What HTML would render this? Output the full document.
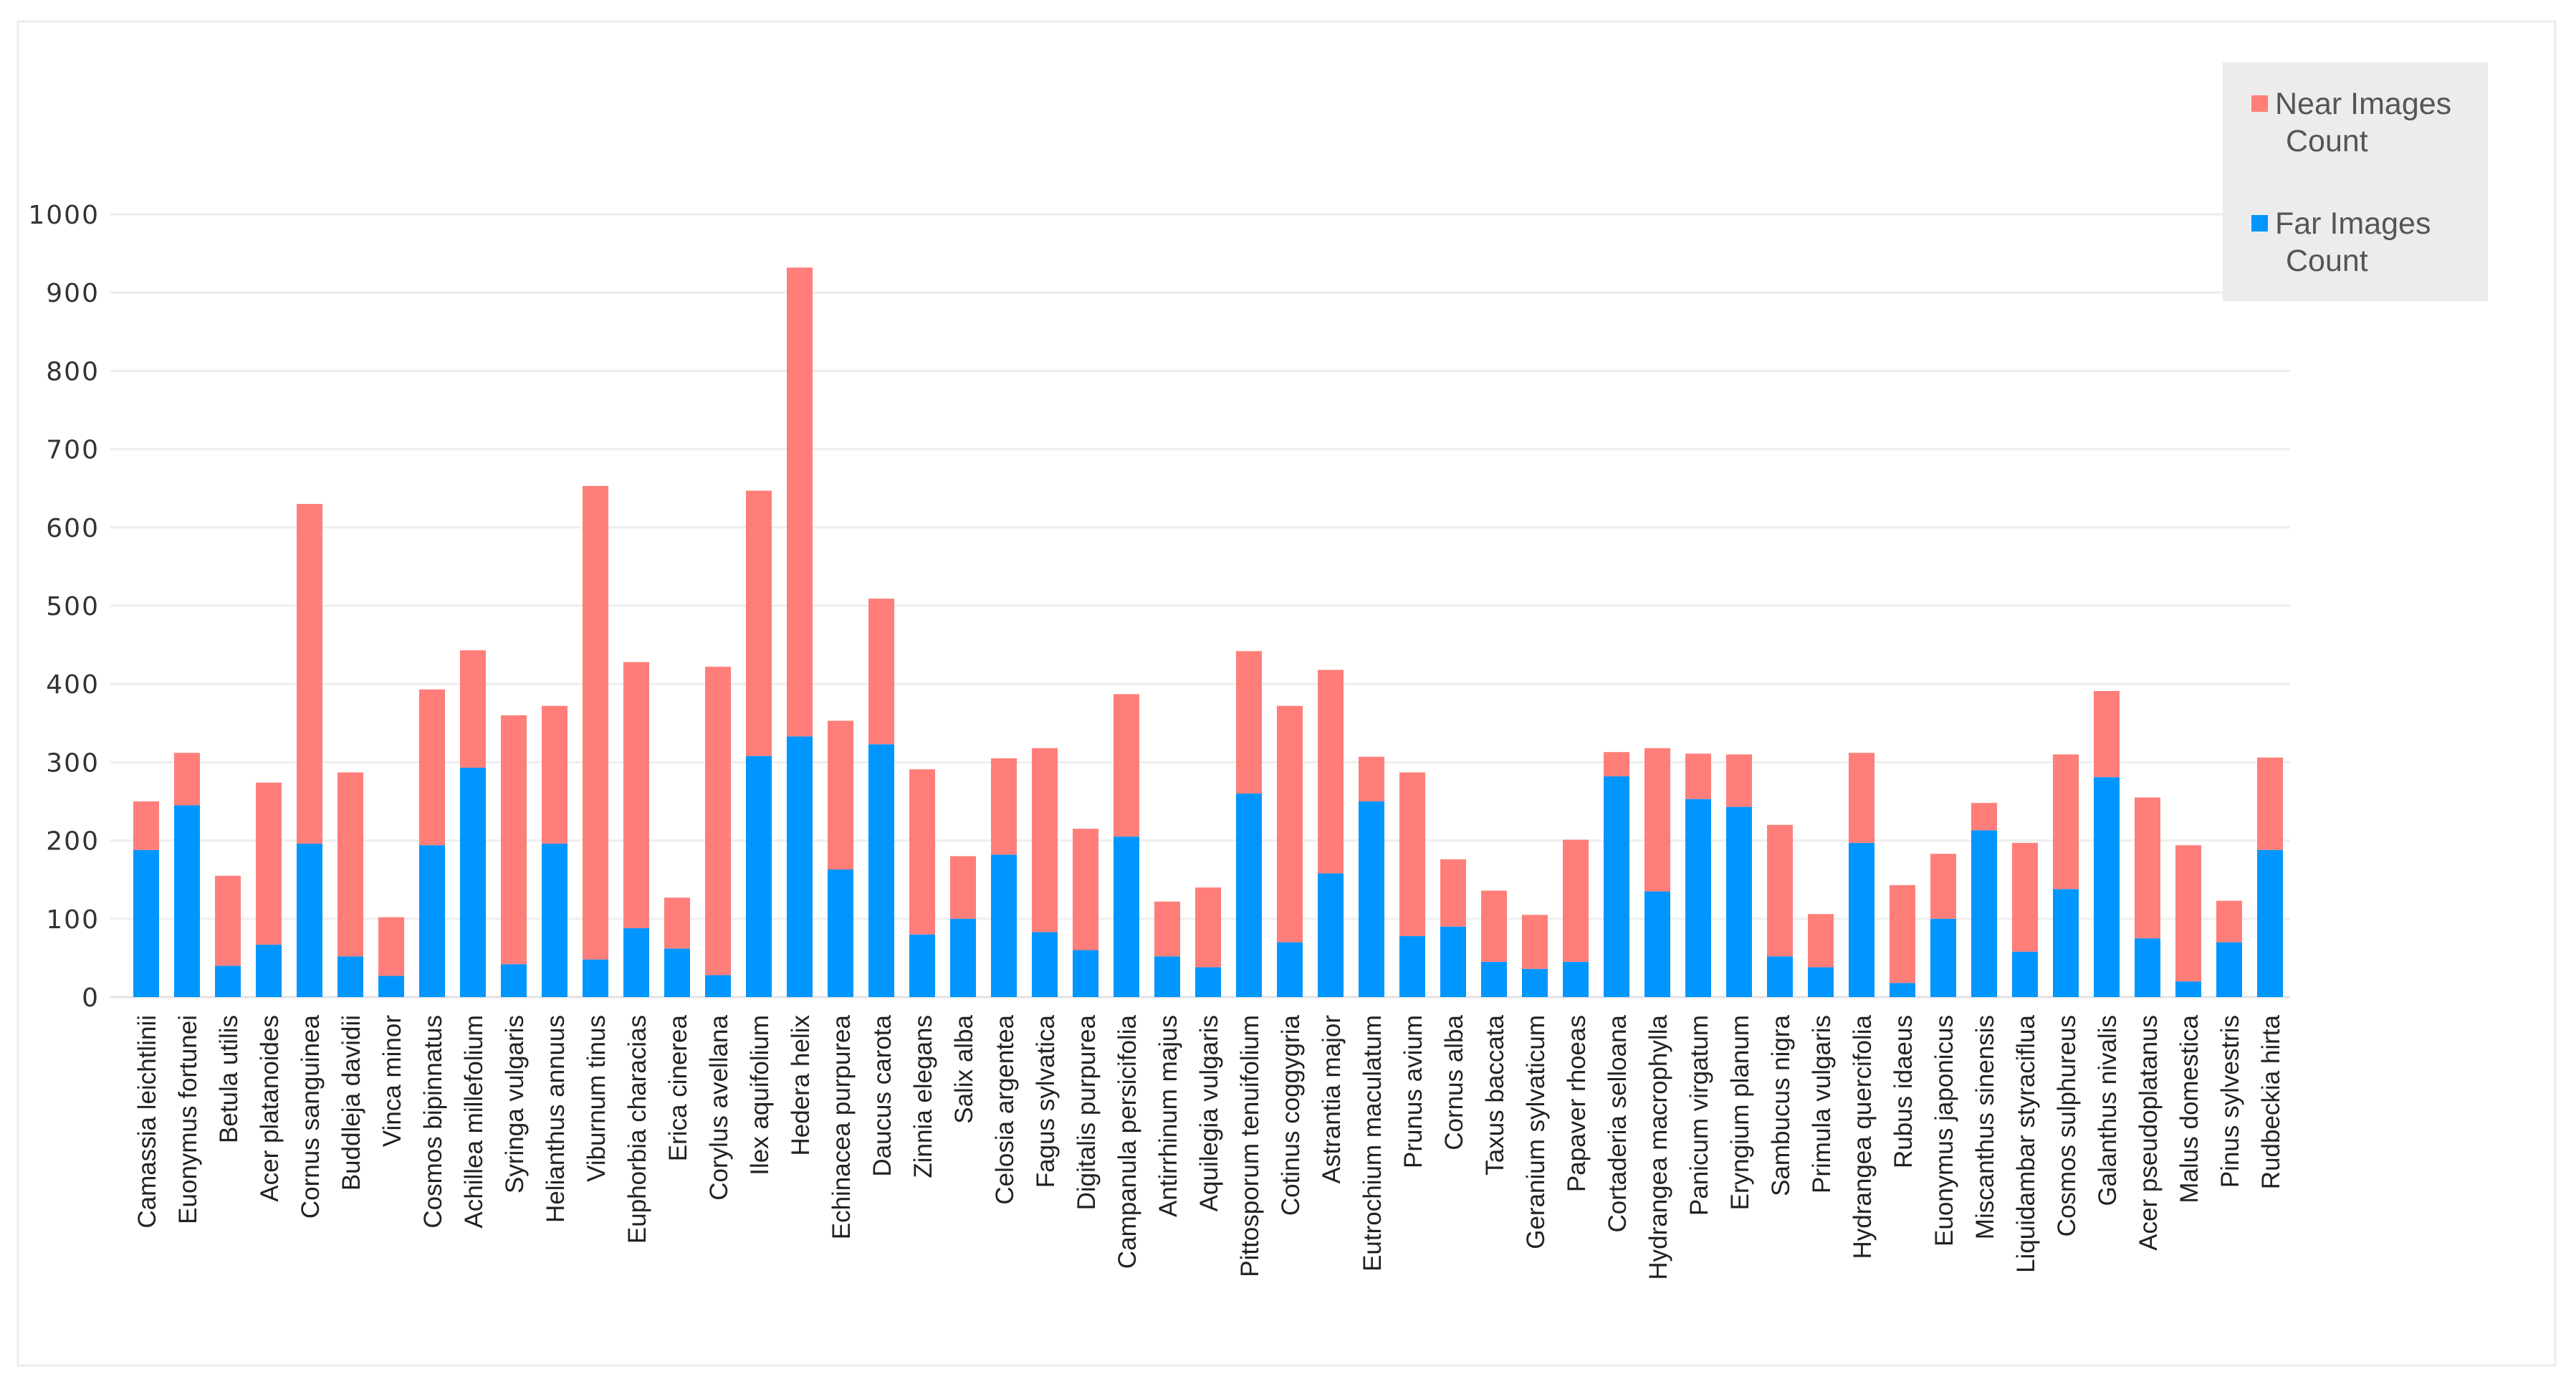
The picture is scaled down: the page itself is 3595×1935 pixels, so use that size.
<!DOCTYPE html>
<html><head><meta charset="utf-8"><style>
html,body{margin:0;padding:0;background:#fff;}
svg{display:block;}
</style></head><body>
<svg id="chart" width="3595" height="1935" viewBox="0 0 3595 1935" xmlns="http://www.w3.org/2000/svg">
<rect x="25" y="30" width="3541" height="1875" fill="#fff" stroke="#ececec" stroke-width="3"/>
<g id="grid"></g>
<g id="yaxis"></g>
<g id="bars"></g>
<g id="xaxis"></g>
<g>
<rect x="3102" y="87" width="370" height="333" fill="#ececec"/>
<g>
<rect x="3142" y="133" width="23" height="23" fill="#ff7e79"/>
<text x="3175" y="159" font-family="Liberation Sans, sans-serif" font-size="43" fill="#555">Near Images</text>
<text x="3190" y="211" font-family="Liberation Sans, sans-serif" font-size="43" fill="#555">Count</text>
</g>
<g>
<rect x="3142" y="300" width="23" height="23" fill="#0096ff"/>
<text x="3175" y="326" font-family="Liberation Sans, sans-serif" font-size="43" fill="#555">Far Images</text>
<text x="3190" y="378" font-family="Liberation Sans, sans-serif" font-size="43" fill="#555">Count</text>
</g>
</g>
</svg>
<script>
const categories = ["Camassia leichtlinii","Euonymus fortunei","Betula utilis","Acer platanoides","Cornus sanguinea","Buddleja davidii","Vinca minor","Cosmos bipinnatus","Achillea millefolium","Syringa vulgaris","Helianthus annuus","Viburnum tinus","Euphorbia characias","Erica cinerea","Corylus avellana","Ilex aquifolium","Hedera helix","Echinacea purpurea","Daucus carota","Zinnia elegans","Salix alba","Celosia argentea","Fagus sylvatica","Digitalis purpurea","Campanula persicifolia","Antirrhinum majus","Aquilegia vulgaris","Pittosporum tenuifolium","Cotinus coggygria","Astrantia major","Eutrochium maculatum","Prunus avium","Cornus alba","Taxus baccata","Geranium sylvaticum","Papaver rhoeas","Cortaderia selloana","Hydrangea macrophylla","Panicum virgatum","Eryngium planum","Sambucus nigra","Primula vulgaris","Hydrangea quercifolia","Rubus idaeus","Euonymus japonicus","Miscanthus sinensis","Liquidambar styraciflua","Cosmos sulphureus","Galanthus nivalis","Acer pseudoplatanus","Malus domestica","Pinus sylvestris","Rudbeckia hirta"];
const farCounts = [188,245,40,67,196,52,27,194,293,42,196,48,88,62,28,308,333,163,323,80,100,182,83,60,205,52,38,260,70,158,250,78,90,45,36,45,282,135,253,243,52,38,197,18,100,213,58,138,281,75,20,70,188];
const nearCounts = [62,67,115,207,434,235,75,199,150,318,176,605,340,65,394,339,599,190,186,211,80,123,235,155,182,70,102,182,302,260,57,209,86,91,69,156,31,183,58,67,168,68,115,125,83,35,139,172,110,180,174,53,118];
const yTicks = [0,100,200,300,400,500,600,700,800,900,1000];

const NS = "http://www.w3.org/2000/svg";
const y0 = 1391, y1000 = 299;
function yScale(v){ return y0 - (v/1000)*(y0-y1000); }
const firstCenter = 204, step = 57.0, barW = 36;
function xScale(i){ return firstCenter + i*step; }

const grid = document.getElementById('grid');
const yaxis = document.getElementById('yaxis');
yTicks.forEach(t=>{
  const l = document.createElementNS(NS,'line');
  l.setAttribute('x1',154); l.setAttribute('x2',3196);
  l.setAttribute('y1',yScale(t)); l.setAttribute('y2',yScale(t));
  l.setAttribute('stroke',t===0?'#e2e2e2':'#eeeeee'); l.setAttribute('stroke-width',3);
  
  
  grid.appendChild(l);
  const tx = document.createElementNS(NS,'text');
  tx.setAttribute('x',139); tx.setAttribute('y',yScale(t)+13);
  tx.setAttribute('text-anchor','end');
  tx.setAttribute('font-family','DejaVu Sans, sans-serif');
  tx.setAttribute('font-size','36'); tx.setAttribute('fill','#333');
  tx.setAttribute('letter-spacing','2');
  tx.textContent = t;
  
  
  yaxis.appendChild(tx);
});

const bars = document.getElementById('bars');
const xaxis = document.getElementById('xaxis');
categories.forEach((c,i)=>{
  const cx = xScale(i);
  const f = farCounts[i], n = nearCounts[i];
  const rf = document.createElementNS(NS,'rect');
  rf.setAttribute('x',cx-barW/2); rf.setAttribute('width',barW);
  rf.setAttribute('y',yScale(f)); rf.setAttribute('height',yScale(0)-yScale(f));
  rf.setAttribute('fill','#0096ff');
  
  
  bars.appendChild(rf);
  const rn = document.createElementNS(NS,'rect');
  rn.setAttribute('x',cx-barW/2); rn.setAttribute('width',barW);
  rn.setAttribute('y',yScale(f+n)); rn.setAttribute('height',yScale(f)-yScale(f+n));
  rn.setAttribute('fill','#ff7e79');
  
  
  bars.appendChild(rn);
  const tx = document.createElementNS(NS,'text');
  tx.setAttribute('transform','translate('+(cx+13)+',1416) rotate(-90)');
  tx.setAttribute('text-anchor','end');
  tx.setAttribute('font-family','Liberation Sans, sans-serif');
  tx.setAttribute('font-size','35'); tx.setAttribute('fill','#222');
  tx.textContent = c;
  
  
  xaxis.appendChild(tx);
});
</script>
</body></html>
